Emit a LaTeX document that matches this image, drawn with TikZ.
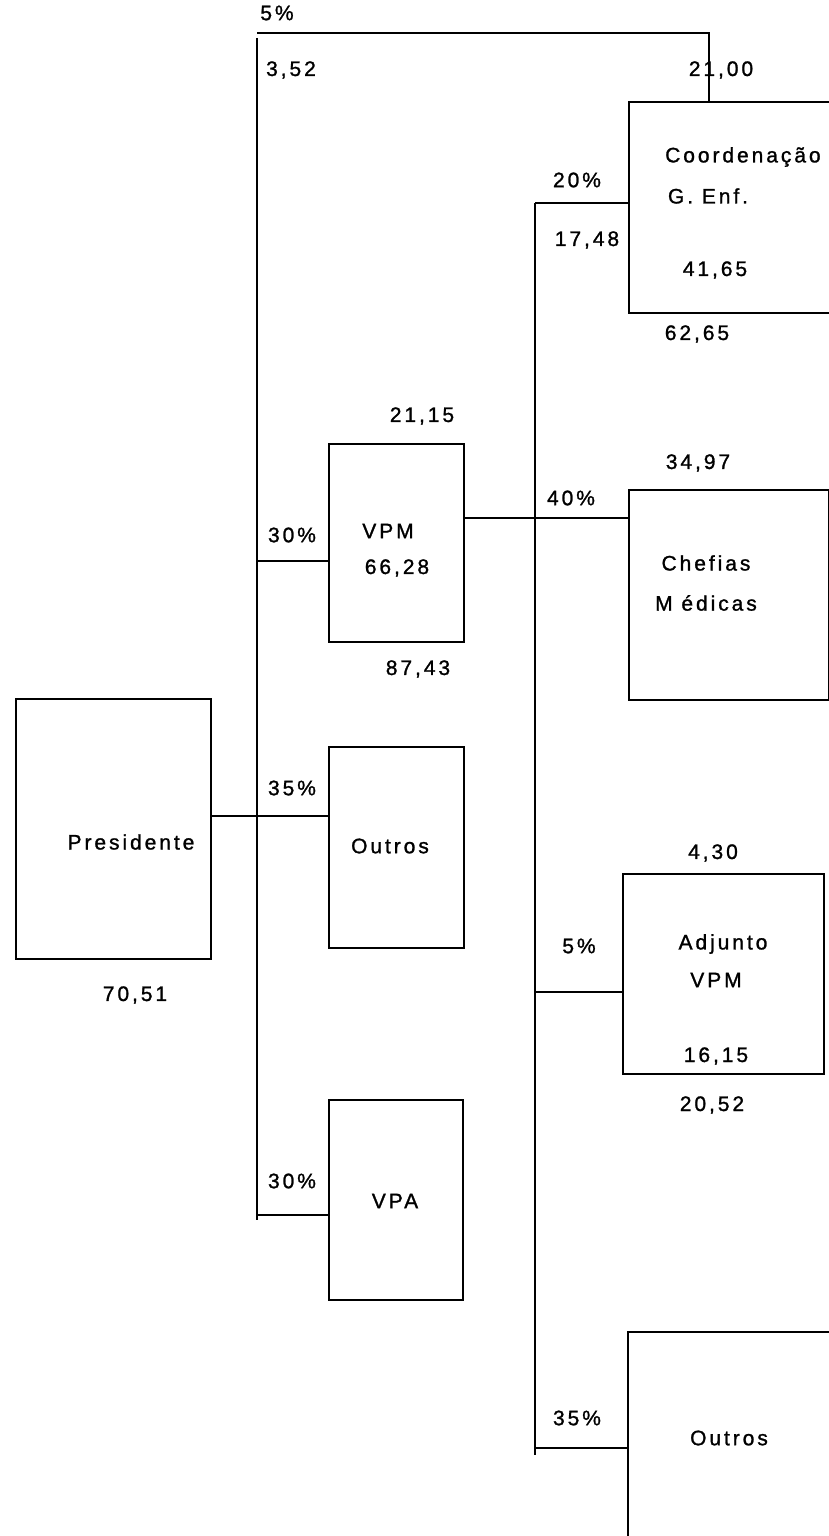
\documentclass[tikz,border=0pt]{standalone}
\usepackage{fontspec}
\setmainfont[LetterSpace=14, FakeBold=1.2]{Liberation Sans}
\usepackage{tikz}
\usetikzlibrary{positioning}
\tikzstyle{box} = [rectangle, draw=black, line width=2pt, inner sep=0pt, anchor=north west]
\tikzstyle{lbl} = [inner sep=0pt, font=\fontsize{21}{24}\selectfont]
\tikzstyle{line} = [line width=2pt]

\begin{document}
\begin{tikzpicture}[x=1pt, y=-1pt]
\useasboundingbox (0,0) rectangle (829,1536);
\clip (0,0) rectangle (829,1536);

% Level 1
\node (pres) [box, minimum width=195pt, minimum height=260pt] at (15,698) {};
\node (tpres) [lbl] at (131,842) {Presidente};
\node (vpres) [lbl] at (135,995) {70,51};

% Level 2
\node (vpm) [box, minimum width=135pt, minimum height=198pt] at (328,443) {};
\node (outa) [box, minimum width=135pt, minimum height=201pt] at (328,746) {};
\node (vpa) [box, minimum width=134pt, minimum height=200pt] at (328,1099) {};

\node (tvpm) [lbl] at (388,531) {VPM};
\node (ivpm) [lbl] at (397,568) {66,28};
\node (avpm) [lbl] at (422,416) {21,15};
\node (bvpm) [lbl] at (418,669) {87,43};
\node (touta) [lbl] at (390,846) {Outros};
\node (tvpa) [lbl] at (395,1201) {VPA};

\node (p30a) [lbl] at (292,535) {30\%};
\node (p35a) [lbl] at (292,788) {35\%};
\node (p30b) [lbl] at (292,1181) {30\%};
\node (p5a) [lbl] at (277,13) {5\%};
\node (v352) [lbl] at (291,70) {3,52};

% Level 3
\node (coord) [box, minimum width=260pt, minimum height=211pt] at (628,101) {};
\node (chef) [box, minimum width=200pt, minimum height=210pt] at (628,489) {};
\node (adj) [box, minimum width=201pt, minimum height=200pt] at (622,873) {};
\node (outb) [box, minimum width=260pt, minimum height=260pt] at (627,1331) {};

\node (tcoord) [lbl, anchor=west] at (665,157) {Coordenação};
\node (tgenf) [lbl] at (708,196) {G. Enf.};
\node (icoord) [lbl] at (715,270) {41,65};
\node (acoord) [lbl] at (721,70) {21,00};
\node (bcoord) [lbl] at (697,334) {62,65};
\node (p20) [lbl] at (577,180) {20\%};
\node (v1748) [lbl] at (587,240) {17,48};

\node (achef) [lbl] at (698,463) {34,97};
\node (tchef) [lbl] at (706,563) {Chefias};
\node (tmed) [lbl] at (706,603) {M édicas};
\node (p40) [lbl] at (571,498) {40\%};

\node (aadj) [lbl] at (713,853) {4,30};
\node (tadj) [lbl] at (723,944) {Adjunto};
\node (tadjv) [lbl] at (716,980) {VPM};
\node (iadj) [lbl] at (716,1056) {16,15};
\node (badj) [lbl] at (712,1105) {20,52};
\node (p5b) [lbl] at (579,946) {5\%};

\node (toutb) [lbl] at (729,1438) {Outros};
\node (p35b) [lbl] at (577,1418) {35\%};

% Trunks
\coordinate (ltop) at (257,33);
\coordinate (lbot) at (257,1220);
\coordinate (rtop) at (535,203);
\coordinate (rbot) at (535,1455);
\coordinate (ctop) at (709,33);

\draw [line] (257,38) -- (lbot);
\draw [line] (rtop) -- (rbot);

% Connectors
\draw [line] (ltop) -- (ctop) -- (coord.north -| ctop);
\draw [line] (pres.east |- 0,816) -- (outa.west |- 0,816);
\draw [line] (ltop |- 0,561) -- (vpm.west |- 0,561);
\draw [line] (ltop |- 0,1215) -- (vpa.west |- 0,1215);
\draw [line] (vpm.east |- 0,518) -- (chef.west |- 0,518);
\draw [line] (rtop) -- (coord.west |- rtop);
\draw [line] (rtop |- 0,992) -- (adj.west |- 0,992);
\draw [line] (rtop |- 0,1448) -- (outb.west |- 0,1448);

\end{tikzpicture}
\end{document}
